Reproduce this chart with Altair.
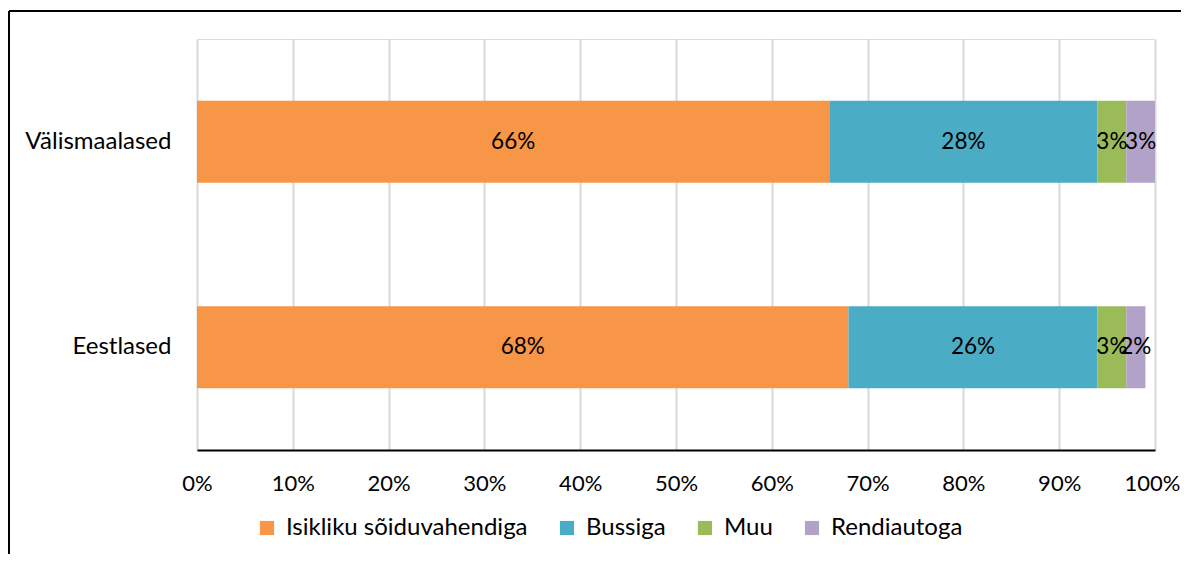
import altair as alt
import pandas as pd

groups = ["Välismaalased", "Eestlased"]
modes = ["Isikliku sõiduvahendiga", "Bussiga", "Muu", "Rendiautoga"]
colors = ["#F79646", "#4BACC6", "#9BBB59", "#B2A2C7"]
val_foreign = [66, 28, 3, 3]
val_estonian = [68, 26, 3, 2]

rows = []
for g, vals in zip(groups, [val_foreign, val_estonian]):
    for i, (m, v) in enumerate(zip(modes, vals)):
        rows.append({"group": g, "mode": m, "value": v, "order": i})
df = pd.DataFrame(rows)

FONT = "Lato"
FS = 24

base = alt.Chart(df).transform_stack(
    stack="value", groupby=["group"], as_=["x0", "x1"], sort=[alt.SortField("order")]
).transform_calculate(
    mid="(datum.x0 + datum.x1) / 2",
    label="datum.value + '%'",
)

yenc = alt.Y("group:N", sort=groups, title=None,
             scale=alt.Scale(paddingInner=0.6, paddingOuter=0.3),
             axis=alt.Axis(domain=False, ticks=False, labelPadding=26,
                           labelFontSize=FS, labelFont=FONT, labelColor="#000000"))

bars = base.mark_bar().encode(
    x=alt.X("x0:Q", scale=alt.Scale(domain=[0, 100], nice=False), title=None,
            axis=alt.Axis(values=list(range(0, 101, 10)), labelExpr="datum.value + '%'",
                          grid=True, gridColor="#D9D9D9", gridWidth=2,
                          domainColor="#000000", domainWidth=2, ticks=False,
                          labelFlush=False,
                          labelOffset=alt.condition("datum.value == 100", alt.value(-3), alt.value(0)),
                          labelPadding=23, labelFontSize=22, labelFont=FONT,
                          labelColor="#000000")),
    x2="x1:Q",
    y=yenc,
    color=alt.Color("mode:N", sort=modes,
                    scale=alt.Scale(domain=modes, range=colors),
                    legend=alt.Legend(title=None, orient="none", direction="horizontal",
                                      legendX=58, legendY=477, padding=0,
                                      symbolType="square", symbolSize=200,
                                      symbolStrokeWidth=0, symbolOpacity=1,
                                      labelFontSize=FS, labelFont=FONT,
                                      labelColor="#000000", labelOffset=7,
                                      columnPadding=27, labelLimit=400)),
)

texts = base.mark_text(fontSize=22.5, font=FONT, color="#000000").encode(
    x=alt.X("mid:Q"),
    y=alt.Y("group:N", sort=groups),
    text="label:N",
)

frame_top = alt.Chart(pd.DataFrame({"k": [0]})).mark_rule(
    color="#000000", strokeWidth=2, clip=False
).encode(
    x=alt.value(-188), x2=alt.value(1100), y=alt.value(-28)
)
frame_left = alt.Chart(pd.DataFrame({"k": [0]})).mark_rule(
    color="#000000", strokeWidth=2, clip=False
).encode(
    x=alt.value(-188), y=alt.value(-28), y2=alt.value(600)
)

chart = alt.layer(frame_top, frame_left, bars, texts).properties(
    width=958, height=411,
    autosize=alt.AutoSizeParams(type="none"),
    padding={"left": 189, "top": 31, "right": 26, "bottom": 104},
).configure_view(stroke=None).configure(background="white")

chart.save("out.html", embed_options={"renderer": "svg", "actions": False})
